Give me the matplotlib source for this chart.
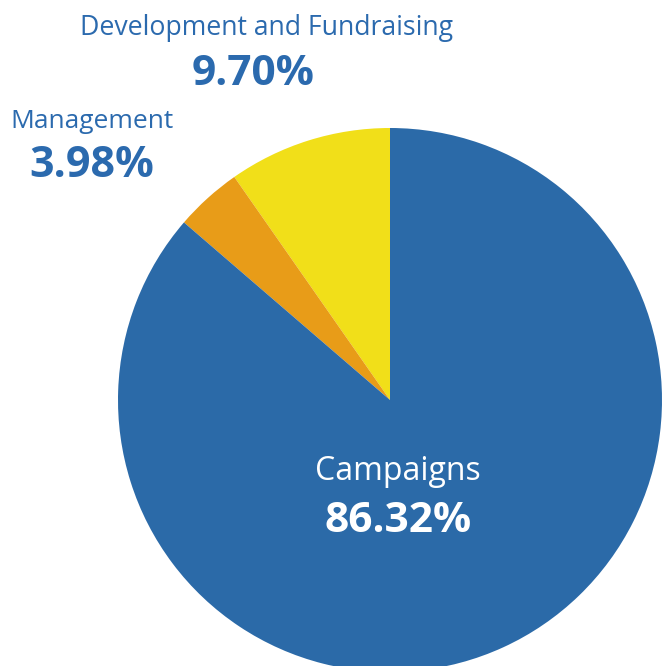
import matplotlib
matplotlib.use("Agg")
import matplotlib.pyplot as plt

categories = ["Development and Fundraising", "Management", "Campaigns"]
values = [9.70, 3.98, 86.32]
colors = ["#F1DF19", "#E89C18", "#2B6AA8"]
pct_labels = ["9.70%", "3.98%", "86.32%"]

W, H = 662, 666
fig = plt.figure(figsize=(W / 100, H / 100), dpi=100)
ax = fig.add_axes([0, 0, 1, 1])

cx, cy, r = 390, H - 400, 272
ax.pie(values, colors=colors, startangle=90, counterclock=True,
       center=(cx, cy), radius=r, frame=True,
       wedgeprops=dict(linewidth=0))
ax.set_xlim(0, W)
ax.set_ylim(0, H)
ax.set_aspect("equal")
ax.axis("off")

blue = "#2B6AAE"
font = "Open Sans"
# (name x, pct x, name baseline, pct baseline, colour, name size, pct size) in pixels from top
label_pos = [(266, 253, 35, 85, blue, 19.2, 30.5),
             (92, 92, 128, 177, blue, 19, 31),
             (398, 398, 480, 532, "white", 23, 30.5)]
for cat, pct, (x1, x2, yb1, yb2, col, s1, s2) in zip(categories, pct_labels, label_pos):
    ax.text(x1, H - yb1, cat, ha="center", va="baseline", fontsize=s1,
            color=col, family=font)
    ax.text(x2, H - yb2, pct, ha="center", va="baseline", fontsize=s2,
            color=col, family=font, fontweight="bold")

fig.savefig("out.png", dpi=100)
